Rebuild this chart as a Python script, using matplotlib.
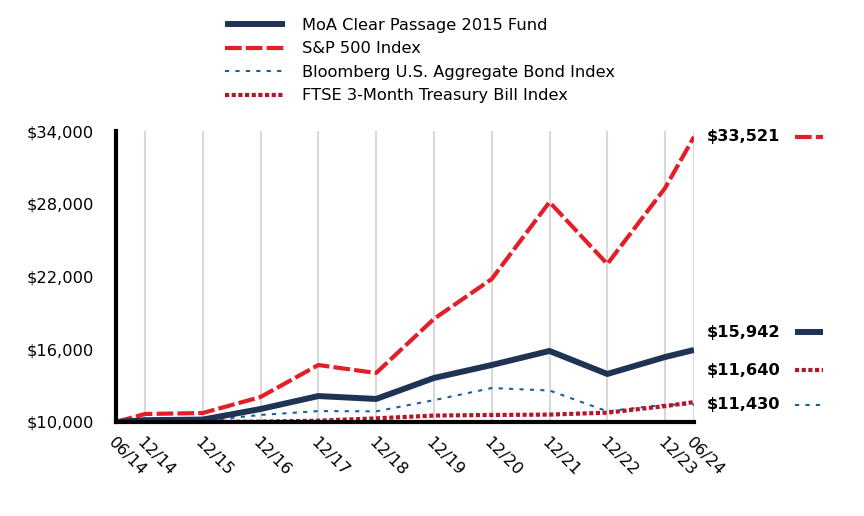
import matplotlib
matplotlib.use("Agg")
import matplotlib.pyplot as plt
from matplotlib.lines import Line2D

# periods since 06/14 (in years) and their labels
periods = [0, 0.5, 1.5, 2.5, 3.5, 4.5, 5.5, 6.5, 7.5, 8.5, 9.5, 10]
period_labels = ["06/14", "12/14", "12/15", "12/16", "12/17", "12/18",
                 "12/19", "12/20", "12/21", "12/22", "12/23", "06/24"]

fund = [10000, 10150, 10200, 11070, 12140, 11900, 13630, 14700, 15860, 13960, 15360, 15942]
sp500 = [10000, 10660, 10740, 12060, 14700, 14040, 18500, 21790, 28140, 23030, 29300, 33521]
bond = [10000, 10050, 10100, 10580, 10900, 10880, 11800, 12800, 12600, 10880, 11430, 11430]
tbill = [10000, 10001, 10005, 10030, 10110, 10300, 10530, 10580, 10610, 10770, 11310, 11640]

names = ["MoA Clear Passage 2015 Fund", "S&P 500 Index",
         "Bloomberg U.S. Aggregate Bond Index", "FTSE 3-Month Treasury Bill Index"]

y_ticks = [10000, 16000, 22000, 28000, 34000]

navy = "#1f3455"
red = "#e31e26"
blue = "#1a5fa0"
darkred = "#b5172a"
fs = 11.7

fig = plt.figure(figsize=(8.64, 5.16), dpi=100)
ax = fig.add_axes([116/864, 1 - 422/516, 578/864, 291/516])

styles = [
    dict(color=navy, lw=4.3, ls="-"),
    dict(color=red, lw=3, ls=(0, (4, 1))),
    dict(color=blue, lw=1.5, ls=(0, (2, 3))),
    dict(color=darkred, lw=3, ls=(0, (1, 0.6))),
]
series = [fund, sp500, bond, tbill]

# draw back to front so the fund sits on top like the original
order = [2, 3, 1, 0]
handles = [None] * 4
for i in order:
    handles[i], = ax.plot(periods, series[i], label=names[i], zorder=3 + (i == 0),
                          solid_capstyle="butt", dash_capstyle="butt", **styles[i])

ax.set_xlim(0, 10)
ax.set_ylim(10000, 34000)
ax.set_yticks(y_ticks)
ax.set_yticklabels([f"${v:,}" for v in y_ticks], fontsize=fs)
ax.set_xticks(periods)
ax.set_xticklabels(period_labels, fontsize=fs, rotation=-45, ha="left",
                   rotation_mode="anchor")
ax.tick_params(axis="both", length=0)
ax.tick_params(axis="y", pad=16)
ax.tick_params(axis="x", pad=9)

ax.grid(axis="x", color="#d9d9d9", lw=1.5)
ax.set_axisbelow(True)
for s in ["top", "right"]:
    ax.spines[s].set_visible(False)
ax.spines["left"].set_linewidth(3)
ax.spines["bottom"].set_linewidth(3)
ax.spines["left"].set_zorder(5)
ax.spines["bottom"].set_zorder(5)

fig.legend(handles=handles, labels=names, loc="upper left",
           bbox_to_anchor=(225/864, 1 - 18/516), frameon=False, fontsize=fs,
           borderpad=0, borderaxespad=0, handlelength=3.7, handletextpad=1.05,
           labelspacing=0.52)

# end-value labels on the right with short line samples
label_y = [332, 137, 405, 370]  # pixel rows of the labels
for i in range(4):
    yf = 1 - label_y[i] / 516
    fig.text(707/864, yf, f"${series[i][-1]:,}", fontsize=fs, fontweight="bold",
             va="center", ha="left")
    fig.add_artist(Line2D([795/864, 823/864], [yf, yf], transform=fig.transFigure,
                          solid_capstyle="butt", dash_capstyle="butt", **styles[i]))

plt.savefig("out.png", dpi=100)
plt.close()
